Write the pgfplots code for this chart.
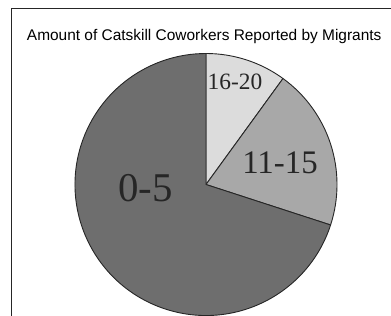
\documentclass[border=0pt]{standalone}
\usepackage{pgfplots}
\usepackage{pgfplotstable}
\pgfplotsset{compat=1.18}
\usepackage{fontspec}
\setmainfont{Liberation Serif}
\newfontfamily\titlefont{Liberation Sans}
\definecolor{c1}{RGB}{220,220,220}
\definecolor{c2}{RGB}{168,168,168}
\definecolor{c3}{RGB}{110,110,110}
\pgfplotstableread{
label value color
16-20 10 c1
11-15 20 c2
0-5 70 c3
}\piedata
\begin{document}
\begin{tikzpicture}
\begin{axis}[
  hide axis, scale only axis,
  width=391bp, height=316bp,
  xmin=0, xmax=391, ymin=0, ymax=316,
  clip=true,
]
\addplot[draw=none, forget plot] coordinates {(0,0) (391,316)};
\draw[draw=black!85, line width=1.4bp] (axis cs:11.7,-5) -- (axis cs:11.7,307.7) -- (axis cs:400,307.7);
\node[anchor=base, font=\titlefont\fontsize{15.5}{16}\selectfont] at (axis cs:204.2,275.3) {Amount of Catskill Coworkers Reported by Migrants};
\pgfplotstablegetrowsof{\piedata}
\pgfmathtruncatemacro\nrows{\pgfplotsretval-1}
\gdef\angstart{90}
\pgfplotsforeachungrouped \i in {0,...,\nrows}{%
  \pgfplotstablegetelem{\i}{value}\of\piedata \let\val\pgfplotsretval
  \pgfplotstablegetelem{\i}{color}\of\piedata \let\col\pgfplotsretval
  \pgfmathsetmacro\angend{\angstart-3.6*\val}%
  \edef\temp{\noexpand\filldraw[fill=\col, draw=black!85, line width=0.9bp, line join=round] (axis cs:206,131.5) -- ++(\angstart:131bp) arc[start angle=\angstart, end angle=\angend, radius=131bp] -- cycle;}%
  \temp
  \global\let\angstart\angend
}
\node[anchor=base, text=black!85, font=\fontsize{41}{41}\selectfont] at (axis cs:145.5,114.3) {0-5};
\node[anchor=base, text=black!85, font=\fontsize{33}{33}\selectfont] at (axis cs:280,142.7) {11-15};
\node[anchor=base, text=black!85, font=\fontsize{23.5}{24}\selectfont] at (axis cs:235,226.7) {16-20};
\end{axis}
\end{tikzpicture}
\end{document}
